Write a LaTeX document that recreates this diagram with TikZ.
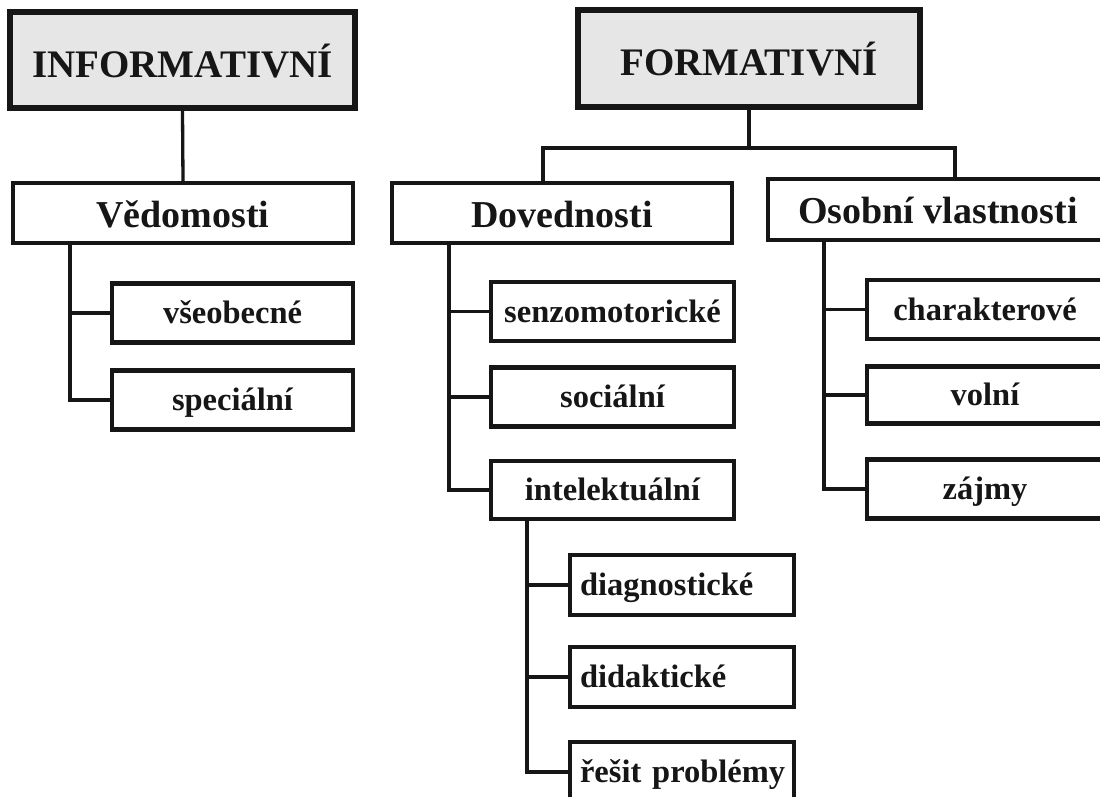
\documentclass[tikz,border=0pt]{standalone}
\usepackage{fontspec}
\setmainfont{Liberation Serif}
\definecolor{ink}{HTML}{161616}
\definecolor{topfill}{HTML}{E6E6E6}
\tikzset{
  topbox/.style={draw=ink, line width=6pt, fill=topfill, rectangle, text=ink,
    font=\fontsize{39}{44}\selectfont\bfseries, inner sep=0pt,
    text height=38pt, text depth=4pt},
  midbox/.style={draw=ink, line width=4.4pt, fill=white, rectangle, text=ink,
    font=\fontsize{38}{42}\selectfont\bfseries, inner sep=0pt,
    text height=34pt, text depth=6pt},
  leafbox/.style={draw=ink, line width=4.4pt, fill=white, rectangle, text=ink,
    font=\fontsize{32.5}{36}\selectfont\bfseries, inner sep=0pt,
    text height=27pt, text depth=6pt},
  leftleaf/.style={leafbox, text width=204pt, align=left},
  conn/.style={draw=ink, line width=3.3pt},
}
\begin{document}
\begin{tikzpicture}[x=1pt,y=-1pt]
\useasboundingbox (0,0) rectangle (1100,796);
\fill[white] (0,0) rectangle (1100,796);
\clip (0,0) rectangle (1100,796);

\coordinate (fbus) at (749,148);
\coordinate (dovtop) at (543,183);
\coordinate (osotop) at (955,179);
\coordinate (vedb) at (70,243);
\coordinate (dovb) at (449,243);
\coordinate (osob) at (824,240);
\coordinate (intb) at (527,520);

% top level
\node[topbox, minimum width=345pt, minimum height=96pt] (inf) at (182.5,60) {INFORMATIVNÍ};
\node[topbox, minimum width=342pt, minimum height=97pt] (form) at (749,58.5) {FORMATIVNÍ};

% second level
\node[midbox, minimum width=340pt, minimum height=60pt] (ved) at (183,213) {Vědomosti};
\node[midbox, minimum width=340pt, minimum height=60pt] (dov) at (562,213) {Dovednosti};
\node[midbox, minimum width=340pt, minimum height=61pt] (oso) at (938,209.5) {Osobní vlastnosti};

% leaves
\node[leafbox, minimum width=241pt, minimum height=59pt] (vseo) at (232.5,313) {všeobecné};
\node[leafbox, minimum width=241pt, minimum height=59pt] (spec) at (232.5,400) {speciální};

\node[leafbox, minimum width=243pt, minimum height=59pt] (senz) at (612.5,311.5) {senzomotorické};
\node[leafbox, minimum width=243pt, minimum height=59pt] (soc) at (612.5,397) {sociální};
\node[leafbox, minimum width=243pt, minimum height=58pt] (intel) at (612.5,490) {intelektuální};

\node[leafbox, minimum width=236pt, minimum height=59pt] (char) at (985,309.5) {charakterové};
\node[leafbox, minimum width=236pt, minimum height=57pt] (voln) at (985,395) {volní};
\node[leafbox, minimum width=236pt, minimum height=59pt] (zajm) at (985,489) {zájmy};

\node[leftleaf, minimum width=224pt, minimum height=60pt] (diag) at (682,585) {\mbox{diagnostické}};
\node[leftleaf, minimum width=224pt, minimum height=60pt] (dida) at (682,677) {\mbox{didaktické}};
\node[leftleaf, minimum width=224pt, minimum height=60pt] (resit) at (682,772) {\mbox{řešit problémy}};

% connectors
\draw[conn] (inf.south) -- (ved.north);
\draw[conn] (form.south) -- (fbus);
\draw[conn] (dovtop) |- (fbus) -| (osotop);
\draw[conn] (vedb) |- (vseo.west);
\draw[conn] (vedb) |- (spec.west);
\draw[conn] (dovb) |- (senz.west);
\draw[conn] (dovb) |- (soc.west);
\draw[conn] (dovb) |- (intel.west);
\draw[conn] (osob) |- (char.west);
\draw[conn] (osob) |- (voln.west);
\draw[conn] (osob) |- (zajm.west);
\draw[conn] (intb) |- (diag.west);
\draw[conn] (intb) |- (dida.west);
\draw[conn] (intb) |- (resit.west);
\end{tikzpicture}
\end{document}
